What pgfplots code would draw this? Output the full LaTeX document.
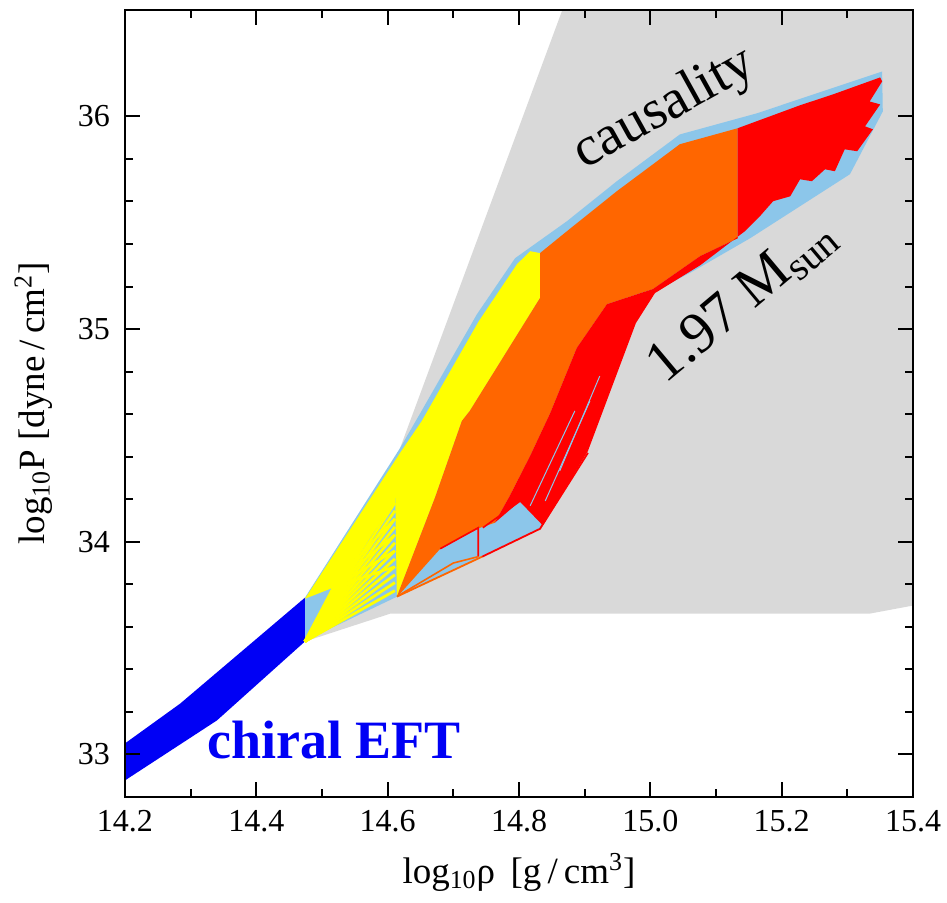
\documentclass[border=0pt]{standalone}
\usepackage{fontspec}
\setmainfont{Liberation Serif}
\usepackage{pgfplots}
\pgfplotsset{compat=1.18}
\definecolor{lblue}{RGB}{140,198,234}
\definecolor{cgray}{RGB}{217,217,217}
\definecolor{corange}{RGB}{255,102,0}
\definecolor{cred}{RGB}{255,0,0}
\definecolor{cyellow}{RGB}{255,255,0}
\definecolor{cblue}{RGB}{0,0,245}
\begin{document}
\begin{tikzpicture}
\begin{axis}[
 scale only axis, width=394pt, height=393.5pt,
 xmin=14.2, xmax=15.4, ymin=32.8, ymax=36.5,
 xtick={14.2,14.4,14.6,14.8,15.0,15.2,15.4},
 ytick={33,34,35,36},
 minor x tick num=1, minor y tick num=4,
 xtick pos=both, ytick pos=both,
 tick align=inside,
 major tick length=7.5pt, minor tick length=4pt,
 every tick/.style={black, line width=1pt},
 axis line style={line width=1.1pt},
 tick label style={font=\fontsize{16}{18}\selectfont},
 xticklabel shift=3pt, yticklabel shift=4pt,
 /pgf/number format/assume math mode=true,
 xticklabel style={/pgf/number format/.cd, fixed, fixed zerofill, precision=1},
 xlabel={log\textsubscript{10}ρ\, [g\,/\,cm\textsuperscript{3}]},
 ylabel={log\textsubscript{10}P [dyne\,/\,cm\textsuperscript{2}]},
 label style={font=\fontsize{18.5}{21}\selectfont},
 xlabel shift=4pt, ylabel shift=6pt,
 axis on top,
]
% causality (gray)
\addplot[fill=cgray, draw=none] coordinates {
 (14.866,36.5) (14.619,34.441) (14.537,33.737) (14.474,33.531) (14.604,33.662)
 (15.334,33.662) (15.4,33.70) (15.4,36.5)};
% envelope (light blue)
\addplot[fill=lblue, draw=none] coordinates {
 (14.474,33.737) (14.619,34.441) (14.649,34.601) (14.736,35.070) (14.794,35.333)
 (14.873,35.507) (14.949,35.695) (15.045,35.915) (15.162,36.014) (15.353,36.211)
 (15.354,36.023) (15.304,35.728) (15.152,35.427) (15.065,35.272) (14.999,35.164)
 (14.974,35.028) (14.900,34.427) (14.832,34.061) (14.744,33.934) (14.611,33.737)
 (14.474,33.535)};
% chiral EFT band
\addplot[fill=cblue, draw=none] coordinates {
 (14.2,33.052) (14.284,33.239) (14.474,33.737)
 (14.474,33.531) (14.340,33.160) (14.2,32.878)};
% yellow strip and body
\addplot[fill=cyellow, draw=none] coordinates {
 (14.474,33.732) (14.619,34.418) (14.611,34.180) (14.517,33.784)};
\addplot[fill=cyellow, draw=none] coordinates {
 (14.619,34.418) (14.652,34.568) (14.739,35.038) (14.797,35.305) (14.817,35.366)
 (14.832,35.357) (14.832,35.146) (14.725,34.615) (14.713,34.568) (14.672,34.207)
 (14.614,33.742) (14.611,34.310)};
% yellow fan lines from the lower corner
\addplot[cyellow, line width=1.4pt] coordinates {(14.474,33.531) (14.611,34.333)};
\addplot[cyellow, line width=1.4pt] coordinates {(14.474,33.531) (14.611,34.296)};
\addplot[cyellow, line width=1.4pt] coordinates {(14.474,33.531) (14.611,34.258)};
\addplot[cyellow, line width=1.4pt] coordinates {(14.474,33.531) (14.611,34.221)};
\addplot[cyellow, line width=1.4pt] coordinates {(14.474,33.531) (14.611,34.183)};
\addplot[cyellow, line width=1.4pt] coordinates {(14.474,33.531) (14.611,34.146)};
\addplot[cyellow, line width=1.4pt] coordinates {(14.474,33.531) (14.611,34.108)};
\addplot[cyellow, line width=1.4pt] coordinates {(14.474,33.531) (14.611,34.070)};
\addplot[cyellow, line width=1.4pt] coordinates {(14.474,33.531) (14.611,34.033)};
\addplot[cyellow, line width=1.4pt] coordinates {(14.474,33.531) (14.611,33.995)};
\addplot[cyellow, line width=1.4pt] coordinates {(14.474,33.531) (14.611,33.958)};
\addplot[cyellow, line width=1.4pt] coordinates {(14.474,33.531) (14.611,33.920)};
\addplot[cyellow, line width=1.4pt] coordinates {(14.474,33.531) (14.611,33.883)};
\addplot[cyellow, line width=1.4pt] coordinates {(14.474,33.531) (14.611,33.845)};
\addplot[cyellow, line width=1.4pt] coordinates {(14.474,33.531) (14.611,33.808)};
\addplot[cyellow, line width=1.4pt] coordinates {(14.474,33.531) (14.611,33.770)};
% yellow fan lines from the upper apex
\addplot[cyellow, line width=1.2pt] coordinates {(14.517,33.784) (14.560,34.000) (14.611,34.183)};
\addplot[cyellow, line width=1.2pt] coordinates {(14.517,33.784) (14.565,33.960) (14.611,34.108)};
\addplot[cyellow, line width=1.2pt] coordinates {(14.517,33.784) (14.570,33.930) (14.611,34.033)};
\addplot[cyellow, line width=1.2pt] coordinates {(14.517,33.784) (14.611,33.958)};
\addplot[cyellow, line width=1.2pt] coordinates {(14.517,33.784) (14.611,33.883)};
% orange
\addplot[fill=corange, draw=none] coordinates {
 (14.614,33.742) (14.672,34.207) (14.713,34.568) (14.725,34.615) (14.832,35.146)
 (14.832,35.357) (14.873,35.460) (14.949,35.648) (15.045,35.869) (15.133,35.944)
 (15.133,35.427) (15.076,35.343) (15.004,35.188) (14.934,35.117) (14.888,34.911)
 (14.847,34.601) (14.817,34.404) (14.786,34.216) (14.763,34.089) (14.741,34.066)
 (14.680,33.967) (14.616,33.746)};
% red
\addplot[fill=cred, draw=none] coordinates {
 (14.847,34.601) (14.888,34.911) (14.934,35.117) (15.004,35.188) (15.076,35.343)
 (15.133,35.427) (15.133,35.944) (15.162,35.977) (15.228,36.052) (15.278,36.103)
 (15.350,36.183) (15.353,36.164) (15.334,36.070) (15.350,36.056) (15.327,35.953)
 (15.339,35.939) (15.315,35.836) (15.296,35.845) (15.281,35.742) (15.266,35.751)
 (15.246,35.695) (15.228,35.704) (15.213,35.624) (15.187,35.601) (15.167,35.531)
 (15.144,35.460) (15.076,35.300) (15.007,35.169) (14.978,35.028) (14.905,34.427)
 (14.837,34.080) (14.802,34.192) (14.763,34.089) (14.786,34.216) (14.817,34.404)};
% light-blue gaps in the red band
\addplot[lblue, line width=0.5pt] coordinates {(14.817,34.169) (14.885,34.615)};
\addplot[lblue, line width=0.5pt] coordinates {(14.840,34.192) (14.908,34.662)};
\addplot[lblue, line width=0.5pt] coordinates {(14.862,34.333) (14.923,34.779)};
% outlines
\addplot[corange, line width=0.9pt] coordinates {(14.614,33.742) (14.744,33.930)};
\addplot[cred, line width=0.9pt] coordinates {(14.744,33.930) (14.832,34.061) (14.905,34.418)};
\addplot[cred, line width=0.8pt] coordinates {(14.745,34.066) (14.802,34.192) (14.837,34.080)};
\addplot[cred, line width=0.8pt] coordinates {(14.680,33.967) (14.738,34.066) (14.738,33.930)};
\addplot[corange, line width=0.8pt] coordinates {(14.616,33.746) (14.700,33.900) (14.738,33.930)};
% labels
\node[rotate=29, font=\fontsize{28}{30}\selectfont] at (axis cs:15.022,36.033) {causality};
\node[text=cblue, font=\bfseries\fontsize{27}{30}\selectfont] at (axis cs:14.518,33.070) {chiral EFT};
\node[rotate=40, font=\fontsize{29}{32}\selectfont] at (axis cs:15.140,35.135) {1.97 M\textsubscript{sun}};
\end{axis}
\pgfresetboundingbox
\path ([shift={(-62.5pt,-53pt)}]current axis.south west) rectangle ([shift={(17pt,5pt)}]current axis.north east);
\end{tikzpicture}
\end{document}
